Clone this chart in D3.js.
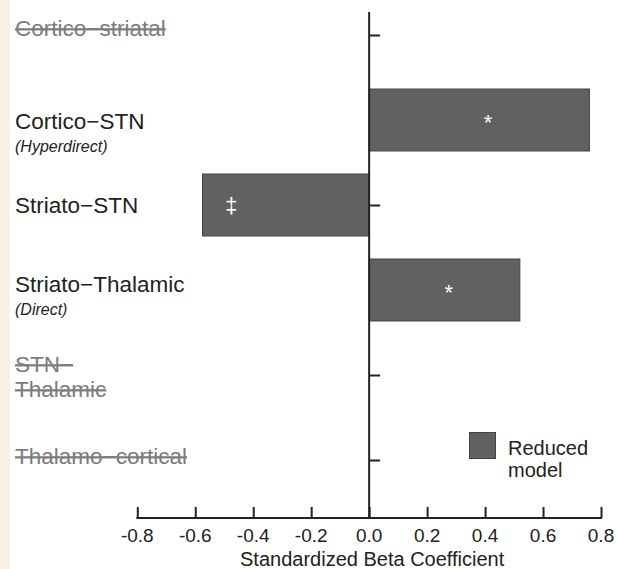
<!DOCTYPE html>
<html><head><meta charset="utf-8">
<script src="https://cdn.jsdelivr.net/npm/d3@7"></script>
<style>
html,body{margin:0;padding:0;background:#fff;}
svg{display:block;font-family:"Liberation Sans",Arial,sans-serif;}
</style></head>
<body>
<svg id="chart" width="617" height="569"></svg>
<script>
// ---- data ----
const categories = ["Cortico−striatal","Cortico−STN","Striato−STN","Striato−Thalamic","STN−Thalamic","Thalamo−cortical"];
const labelLines = [["Cortico−striatal"],["Cortico−STN"],["Striato−STN"],["Striato−Thalamic"],["STN−","Thalamic"],["Thalamo−cortical"]];
const subLabels = [null,"(Hyperdirect)",null,"(Direct)",null,null];
const excluded = [true,false,false,false,true,true];
const values = [null,0.76,-0.575,0.52,null,null];
const markers = [null,"*","‡","*",null,null];
const markerAt = [null,0.41,-0.475,0.275,null,null];
const xTicks = [-0.8,-0.6,-0.4,-0.2,0.0,0.2,0.4,0.6,0.8];
const xTickLabels = ["-0.8","-0.6","-0.4","-0.2","0.0","0.2","0.4","0.6","0.8"];
const legendLabel = ["Reduced","model"];
const xTitle = "Standardized Beta Coefficient";

// ---- layout ----
const labelDy = [1,9,8,2,-3,4];
const svg = d3.select("#chart");
svg.append("rect").attr("x",0).attr("y",0).attr("width",10).attr("height",569).attr("fill","#f6f1e4");

const x = d3.scaleLinear().domain([-0.8,0.8]).range([137.3,601]);
const y = d3.scalePoint().domain(categories).range([35,460]);
const barH = 62;
const ink = "#222";
const rows = categories.map((c,i)=>({c,i,v:values[i]}));

// y axis ticks (to the right), drawn beneath bars
const yAxis = d3.axisRight(y).tickSize(11).tickFormat("");
const gy = svg.append("g").attr("transform",`translate(${x(0)},0)`).call(yAxis);
gy.select(".domain").remove();
gy.selectAll(".tick line").attr("stroke",ink).attr("stroke-width",2);

// bars
svg.selectAll("rect.bar").data(rows.filter(d=>d.v!=null)).join("rect")
  .attr("class","bar")
  .attr("x",d=>Math.min(x(0),x(d.v)))
  .attr("width",d=>Math.abs(x(d.v)-x(0)))
  .attr("y",d=>y(d.c)-barH/2)
  .attr("height",barH)
  .attr("fill","#616161").attr("stroke","#444").attr("stroke-width",1);

svg.append("line").attr("x1",x(0)).attr("x2",x(0)).attr("y1",12).attr("y2",518)
  .attr("stroke",ink).attr("stroke-width",2);

// x axis (ticks upward)
const xAxis = d3.axisTop(x).tickValues(xTicks).tickSize(11).tickFormat("");
const gx = svg.append("g").attr("transform","translate(0,518)").call(xAxis);
gx.select(".domain").remove();
gx.selectAll(".tick line").attr("stroke",ink).attr("stroke-width",2);
svg.append("line").attr("x1",x(-0.8)-1).attr("x2",x(0.8)+1).attr("y1",518).attr("y2",518)
  .attr("stroke",ink).attr("stroke-width",2);
svg.append("g").selectAll("text").data(xTicks).join("text")
  .attr("x",d=>x(d)).attr("y",542).attr("text-anchor","middle")
  .attr("font-size",19).attr("fill",ink)
  .text((d,i)=>xTickLabels[i]);
svg.append("text").attr("x",(x(-0.8)+x(0.8))/2+3).attr("y",566).attr("text-anchor","middle")
  .attr("font-size",20).attr("fill",ink).text(xTitle);

// category labels
rows.forEach(d=>{
  const lines = labelLines[d.i];
  lines.forEach((t,k)=>{
    svg.append("text").attr("x",15).attr("y",y(d.c)+labelDy[d.i]+k*25)
      .attr("font-size",22.5)
      .attr("fill",excluded[d.i]?"#7c7c7c":ink)
      .style("text-decoration",excluded[d.i]?"line-through":"none")
      .text(t);
  });
  if(subLabels[d.i]){
    svg.append("text").attr("x",15).attr("y",y(d.c)+labelDy[d.i]+23)
      .attr("font-size",16).attr("font-style","italic").attr("fill",ink)
      .text(subLabels[d.i]);
  }
});

// significance markers
svg.selectAll("text.mk").data(rows.filter(d=>markers[d.i])).join("text")
  .attr("class","mk")
  .attr("x",d=>x(markerAt[d.i])).attr("y",d=>y(d.c)+(markers[d.i]==="*"?10:8))
  .attr("text-anchor","middle").attr("font-size",22)
  .attr("fill","#fff").text(d=>markers[d.i]);

// legend
svg.append("rect").attr("x",469.5).attr("y",432.5).attr("width",26).attr("height",26)
  .attr("fill","#616161").attr("stroke","#444").attr("stroke-width",1);
legendLabel.forEach((t,k)=>{
  svg.append("text").attr("x",508).attr("y",455+k*22).attr("font-size",20).attr("fill",ink).text(t);
});
</script>
</body></html>
